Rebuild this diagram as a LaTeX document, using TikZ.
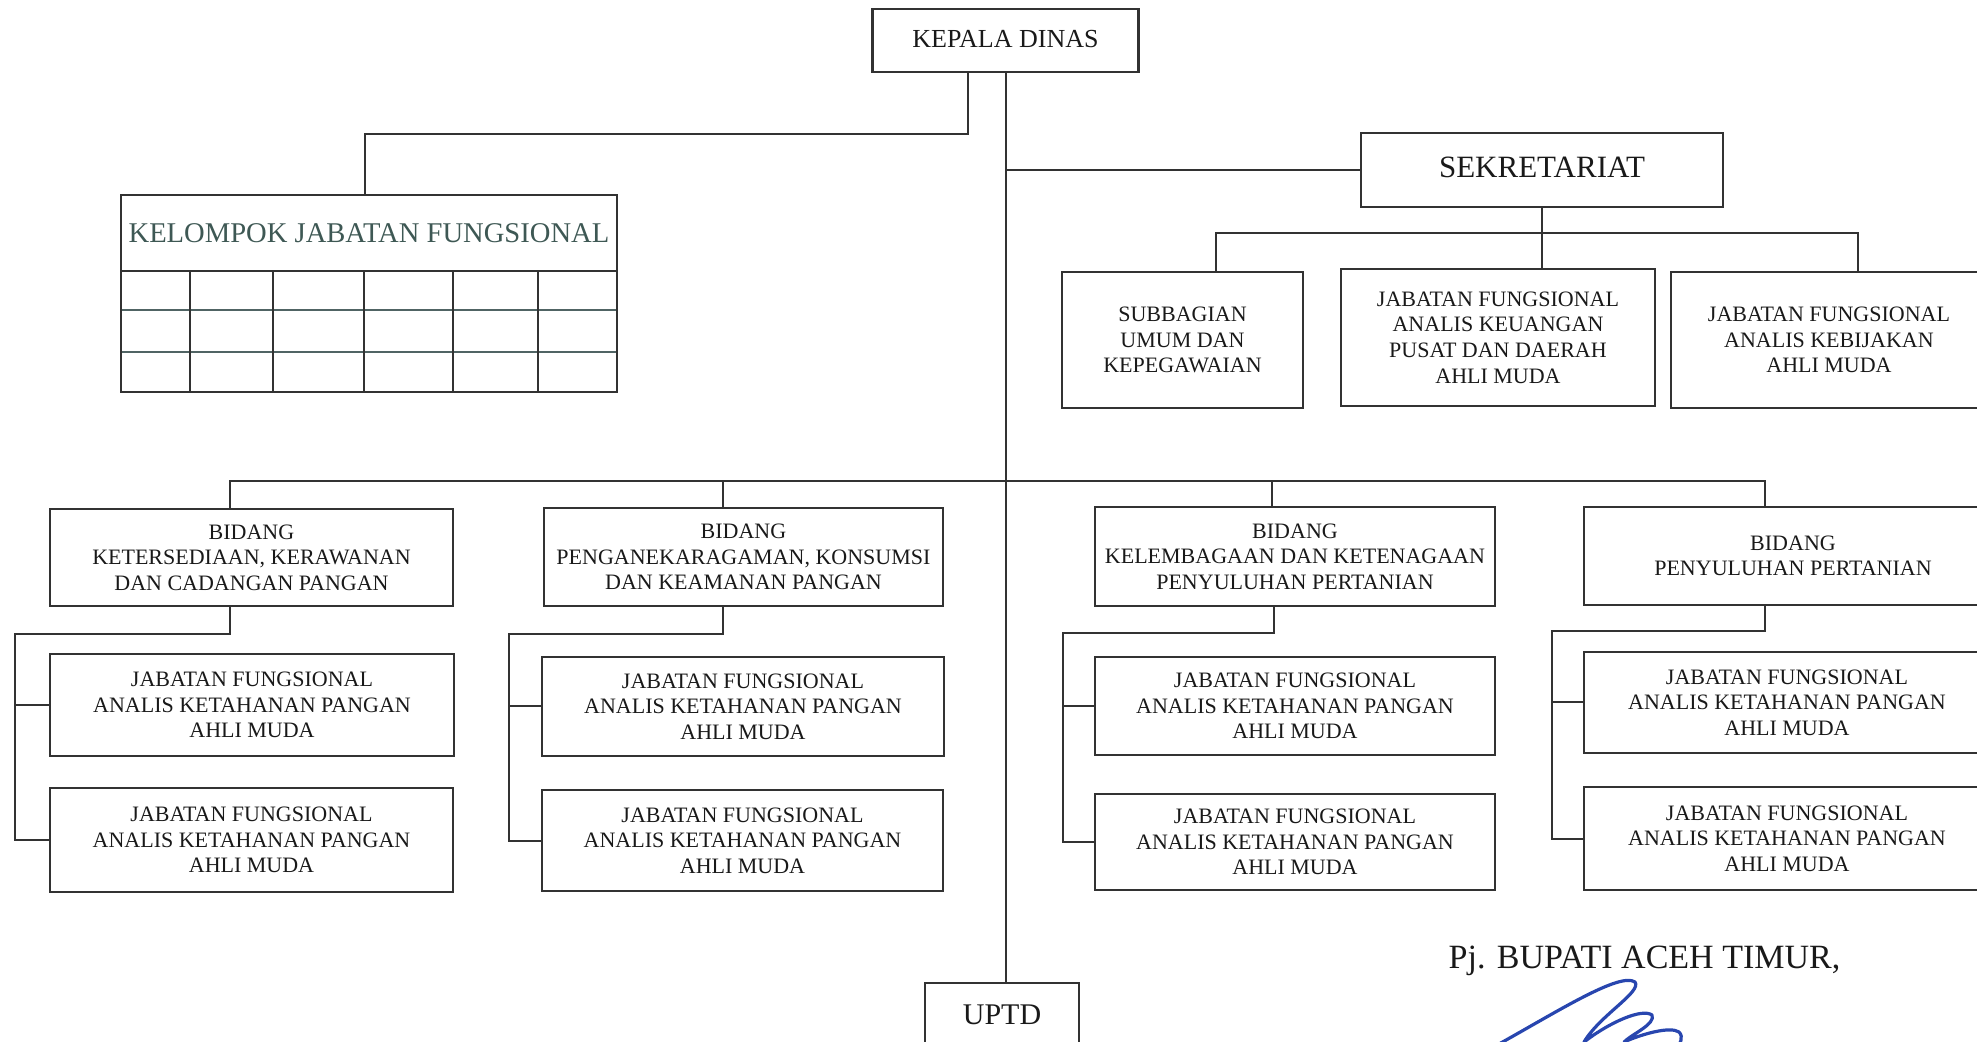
\documentclass[tikz,border=0pt]{standalone}
\usepackage{fontspec}
\setmainfont{Liberation Serif}
\usetikzlibrary{calc}
\definecolor{linec}{RGB}{50,50,50}
\definecolor{textc}{RGB}{25,25,25}
\definecolor{titlec}{RGB}{62,88,84}
\definecolor{gridc}{RGB}{80,100,100}
\definecolor{signc}{RGB}{40,70,175}
\tikzset{
  unit/.style={draw=linec, line width=1.1pt, align=center, inner sep=0pt, text=textc,
    font=\fontsize{11}{12.8}\selectfont},
  conn/.style={draw=linec, line width=1pt},
  sign/.style={draw=signc, line width=1.6pt, line cap=round, line join=round}
}

\begin{document}
\begin{tikzpicture}[x=0.5pt,y=-0.5pt]
    \useasboundingbox (0,0) rectangle (1977,1042);

    \node (kd) [unit, minimum width=133pt, minimum height=31.5pt, font=\fontsize{13}{15}\selectfont] at (1005.5,40.5) {\raisebox{2pt}{KEPALA DINAS}};
    \node (kjf) [unit, minimum width=248pt, minimum height=38pt, text=titlec, font=\fontsize{14.3}{16}\selectfont] at (369,233) {KELOMPOK JABATAN FUNGSIONAL};
    \foreach \y in {310,352} \draw[gridc, line width=1.1pt] (121,\y) -- (617,\y);
    \foreach \x in {190,273,364,453,538} \draw[linec, line width=1.1pt] (\x,271) -- (\x,392);
    \draw[linec, line width=1.1pt] (121,271) rectangle (617,392);

    \node (sek) [unit, minimum width=181pt, minimum height=37pt, font=\fontsize{15.5}{18}\selectfont] at (1542,170) {\raisebox{3pt}{SEKRETARIAT}};
    \node (sub) [unit, minimum width=120.5pt, minimum height=68pt] at (1182.5,340) {SUBBAGIAN\\UMUM DAN\\KEPEGAWAIAN};
    \node (keu) [unit, minimum width=157pt, minimum height=68.5pt] at (1498,337.5) {JABATAN FUNGSIONAL\\ANALIS KEUANGAN\\PUSAT DAN DAERAH\\AHLI MUDA};
    \node (keb) [unit, minimum width=158pt, minimum height=68pt] at (1829,340) {JABATAN FUNGSIONAL\\ANALIS KEBIJAKAN\\AHLI MUDA};

    \node (b1) [unit, minimum width=201.5pt, minimum height=48.5pt] at (251.5,557.5) {BIDANG\\KETERSEDIAAN, KERAWANAN\\DAN CADANGAN PANGAN};
    \node (b2) [unit, minimum width=199.5pt, minimum height=49pt] at (743.5,557) {BIDANG\\PENGANEKARAGAMAN, KONSUMSI\\DAN KEAMANAN PANGAN};
    \node (b3) [unit, minimum width=200pt, minimum height=49.5pt] at (1295,556.5) {BIDANG\\KELEMBAGAAN DAN KETENAGAAN\\PENYULUHAN PERTANIAN};
    \node (b4) [unit, minimum width=209pt, minimum height=49pt] at (1793,556) {BIDANG\\PENYULUHAN PERTANIAN};

    \node (j1a) [unit, minimum width=202pt, minimum height=51pt] at (252,705) {JABATAN FUNGSIONAL\\ANALIS KETAHANAN PANGAN\\AHLI MUDA};
    \node (j1b) [unit, minimum width=201.5pt, minimum height=52pt] at (251.5,840) {JABATAN FUNGSIONAL\\ANALIS KETAHANAN PANGAN\\AHLI MUDA};
    \node (j2a) [unit, minimum width=201pt, minimum height=49.5pt] at (743,706.5) {JABATAN FUNGSIONAL\\ANALIS KETAHANAN PANGAN\\AHLI MUDA};
    \node (j2b) [unit, minimum width=200.5pt, minimum height=50.5pt] at (742.5,840.5) {JABATAN FUNGSIONAL\\ANALIS KETAHANAN PANGAN\\AHLI MUDA};
    \node (j3a) [unit, minimum width=200pt, minimum height=49pt] at (1295,706) {JABATAN FUNGSIONAL\\ANALIS KETAHANAN PANGAN\\AHLI MUDA};
    \node (j3b) [unit, minimum width=200pt, minimum height=48pt] at (1295,842) {JABATAN FUNGSIONAL\\ANALIS KETAHANAN PANGAN\\AHLI MUDA};
    \node (j4a) [unit, minimum width=203pt, minimum height=50.5pt] at (1787,702.5) {JABATAN FUNGSIONAL\\ANALIS KETAHANAN PANGAN\\AHLI MUDA};
    \node (j4b) [unit, minimum width=203pt, minimum height=51.5pt] at (1787,838.5) {JABATAN FUNGSIONAL\\ANALIS KETAHANAN PANGAN\\AHLI MUDA};

    \node (uptd) [unit, minimum width=77pt, minimum height=32pt, font=\fontsize{15}{17}\selectfont] at (1002,1015) {UPTD};
    \node (pj) [anchor=base, text=textc, font=\fontsize{17}{20}\selectfont] at (1644.5,968) {Pj. BUPATI ACEH TIMUR,};

    % garis
    \draw[conn] (kd.south) -- (kd.south |- uptd.north);
    \draw[conn] ([xshift=-19pt]kd.south) -- ++(0,61) -| ([xshift=-2pt]kjf.north);
    \draw[conn] (kd.south |- sek.west) -- (sek.west);
    \draw[conn] (sek.south) -- (sek.south |- keu.north);
    \draw[conn] ([xshift=16.5pt]sub.north) -- ++(0,-38) -| ([xshift=14.5pt]keb.north);

    \draw[conn] ([xshift=-10.75pt]b1.north) -- ++(0,-27) -| ([xshift=-14pt]b4.north);
    \draw[conn] ([xshift=-10.25pt]b2.north) -- ++(0,-26);
    \draw[conn] ([xshift=-11.5pt]b3.north) -- ++(0,-25);

    \draw[conn] ([xshift=-10.75pt]b1.south) -- ++(0,27) -| ([xshift=-17pt]j1b.west) -- (j1b.west);
    \draw[conn] ([xshift=-17pt]j1a.west) -- (j1a.west);
    \draw[conn] ([xshift=-10.25pt]b2.south) -- ++(0,27) -| ([xshift=-16pt]j2b.west) -- (j2b.west);
    \draw[conn] ([xshift=-16pt]j2a.west) -- (j2a.west);
    \draw[conn] ([xshift=-10.5pt]b3.south) -- ++(0,26) -| ([xshift=-15.5pt]j3b.west) -- (j3b.west);
    \draw[conn] ([xshift=-15.5pt]j3a.west) -- (j3a.west);
    \draw[conn] ([xshift=-14pt]b4.south) -- ++(0,25) -| ([xshift=-15.5pt]j4b.west) -- (j4b.west);
    \draw[conn] ([xshift=-15.5pt]j4a.west) -- (j4a.west);

    \draw[sign] (1499,1044) .. controls (1560,1010) and (1620,972) .. (1635,982)
      .. controls (1642,992) and (1600,1015) .. (1584,1042)
      .. controls (1610,1022) and (1642,1008) .. (1652,1015)
      .. controls (1656,1024) and (1632,1034) .. (1624,1042)
      .. controls (1642,1034) and (1670,1026) .. (1679,1032)
      .. controls (1684,1037) and (1680,1044) .. (1676,1050);
\end{tikzpicture}
\end{document}
